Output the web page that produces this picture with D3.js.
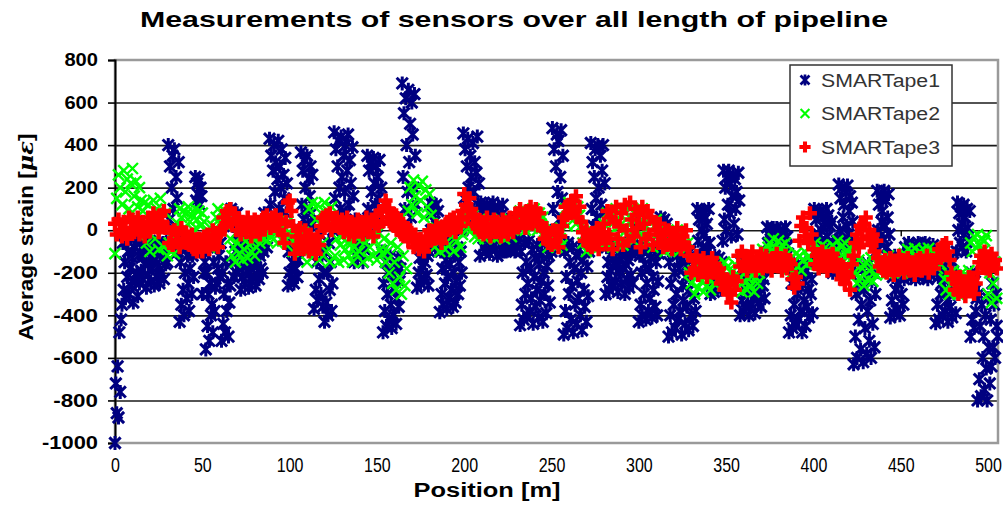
<!DOCTYPE html>
<html><head><meta charset="utf-8">
<script src="https://cdn.jsdelivr.net/npm/d3@7"></script>
<style>body{margin:0;background:#fff}svg{display:block}text{font-family:"Liberation Sans",Arial,sans-serif}</style>
</head><body><svg id="c" width="1003" height="518"></svg>
<script>
const titleText = "Measurements of sensors over all length of pipeline";
const xLabel = "Position [m]";
const seriesNames = ["SMARTape1", "SMARTape2", "SMARTape3"];
const xTicks = [0, 50, 100, 150, 200, 250, 300, 350, 400, 450, 500];
const yTicks = [-1000, -800, -600, -400, -200, 0, 200, 400, 600, 800];
const xMax = 505.7;
// sampling interval along the pipeline (m)
const blueStep = 0.5, greenStep = 1, redStep = 1;

const blueValues = [
-1000,-720,-860,
-640,-880,-480,-760,-420,
-350,-60,-280,-150,-320,-20,-220,-100,-300,-180,-40,-260,-130,-340,-80,-240,-30,-200,-310,-120,
-250,-60,-190,-110,-230,-30,-160,-80,
-270,-90,-210,-150,-50,-240,-120,-180,-70,-260,-140,-100,-220,-60,-170,-250,-90,-200,-130,-60,-230,-110,-160,-80,
-150,400,50,300,-50,200,350,100,380,0,250,150,-100,320,
-430,-150,-350,-80,-280,-400,-200,-50,-320,-120,-250,-380,-180,-100,
-300,-120,-220,-60,
250,140,220,170,240,120,200,160,
-300,-100,-200,-150,
-560,-200,-450,-300,-520,-250,-400,-350,-480,-150,-380,-270,
-250,-80,-180,-120,-220,-60,
-520,-200,-440,-300,-480,-150,-380,-250,-500,-340,
-260,100,-150,20,-220,60,-100,-200,80,-50,-180,0,
-280,-100,-220,-160,-60,-250,-130,-190,-80,-270,-140,-200,-90,-240,-110,-170,-70,-260,-150,-210,-100,-230,-120,-180,-60,-200,
-100,80,-40,20,-80,60,
0,430,120,350,60,280,400,180,320,40,240,420,100,300,200,380,20,260,150,340,80,220,
-260,-100,-200,-60,-230,-150,-80,-250,-120,-180,-70,-220,-140,-90,
0,366,120,280,50,330,200,100,350,20,240,160,300,80,260,30,
-370,-50,-280,-150,-330,-90,-230,-20,-300,-120,-360,-200,
-430,-100,-340,-200,-400,-60,-280,-150,-380,-250,
0,460,150,380,60,300,420,200,100,440,250,30,350,180,400,80,280,450,120,330,220,20,390,160,
-150,50,-80,-20,-130,30,-60,-110,10,-40,-150,40,-90,-10,
0,350,100,280,40,320,180,60,340,220,120,300,20,250,150,330,80,200,
-100,-480,-250,-380,-150,-450,-300,-200,-420,-120,-350,-460,-220,-400,-280,-170,-440,-320,-130,-360,-240,-180,
0,690,250,550,100,620,400,180,660,320,500,60,600,450,200,640,350,120,
-270,-80,-200,-130,-250,-60,-170,-100,-230,-150,-70,-210,-120,-260,
-100,130,0,80,-60,110,40,-80,120,20,90,-40,
-385,-100,-300,-180,-350,-60,-250,-140,-370,-220,-90,-320,-160,-280,-60,-360,-200,-120,-340,-240,-80,-300,-150,-260,-100,-200,
0,455,150,380,60,300,430,200,100,350,250,30,410,180,320,80,270,440,120,220,
-120,130,0,80,-80,110,40,-100,120,-40,60,-110,100,20,-60,130,-20,90,-90,50,-120,110,10,-70,70,-30,120,-100,30,-50,
-100,50,-60,0,-90,30,-40,-80,40,-20,-100,20,-70,-10,-50,50,
-446,-100,-350,-200,-420,-60,-300,-150,-400,-250,-50,-380,-180,-320,-90,-440,-220,-130,-360,-280,-70,-410,-160,-330,-240,-110,-430,-200,-300,-60,-390,-170,-260,-120,-340,-80,
-100,480,100,380,0,300,450,180,420,50,250,470,150,350,
-490,-100,-380,-220,-460,-60,-300,-150,-420,-260,-80,-480,-180,-350,-120,-440,-240,-320,-90,-400,-200,-470,-140,-280,-360,-60,-430,-170,-310,-100,
-50,410,100,320,20,250,380,150,60,400,200,0,350,120,280,400,80,220,
-300,-80,-220,-150,-280,-60,-190,-110,-260,-130,-70,-240,-170,-90,-290,-140,-200,-60,-250,-120,-180,-80,-300,-160,-100,-230,-140,-270,-70,-210,-110,-250,
-100,50,-40,0,-80,30,
-430,-120,-350,-200,-400,-80,-300,-160,-420,-250,-100,-380,-180,-320,-130,-410,-220,-280,-90,-360,-150,-400,-240,-110,
-50,60,0,40,-30,50,10,-40,30,-10,
-500,-150,-400,-250,-480,-100,-350,-200,-460,-300,-120,-420,-180,-380,-140,-490,-260,-330,-110,-440,-220,-360,-160,-470,-280,-100,-400,-200,-450,-320,-130,-380,
-150,100,-50,50,-120,80,0,-80,90,-20,60,-140,30,-100,100,-60,
-300,-140,-250,-180,-290,-120,-220,-160,-270,-200,-130,-240,-280,-150,
-50,280,50,200,0,250,120,280,80,220,-30,160,260,30,240,100,180,-20,270,140,
-400,-150,-330,-220,-380,-180,-280,-360,-160,-300,-400,-200,-250,-350,-170,-320,-240,-390,-190,-270,-150,-340,-210,-300,-360,-160,-260,-230,-320,-180,
-120,14,-60,-20,-100,0,-80,-40,10,-110,-30,-70,10,-90,-50,-10,-120,-20,-60,0,-100,-40,14,-80,-30,-110,
-480,-180,-400,-250,-460,-150,-350,-220,-440,-300,-160,-420,-200,-380,-270,-480,-170,-330,-240,-450,-190,-360,-280,-410,-150,-300,-230,-390,
-150,100,-50,50,-120,80,-20,-90,90,0,-140,60,-60,30,-100,100,-30,70,-130,20,-70,40,
-200,-60,-150,-100,-180,-50,
-100,215,0,150,-50,200,60,120,-80,180,20,210,-20,90,160,-60,130,40,
-630,-200,-500,-300,-600,-150,-420,-250,-560,-350,-180,-620,-280,-460,-220,-580,-380,-160,-520,-330,-600,-240,-440,-200,-550,-300,
-100,185,0,120,-60,160,40,90,-40,185,20,140,-80,60,170,-20,
-410,-150,-330,-220,-390,-120,-280,-180,-370,-250,-140,-400,-200,-300,-160,-350,
-230,-80,-180,-120,-210,-60,-150,-100,-220,-140,-70,-190,-110,-230,-90,-160,-60,-200,-130,-80,-170,-220,-100,-150,-60,-190,-120,-230,-80,-140,-210,-100,-170,-70,-200,-130,
-437,-160,-350,-220,-420,-180,-300,-250,-400,-150,-280,-380,-200,-330,-430,-170,-260,-360,-210,-410,-150,-300,-240,-390,
-100,130,0,80,-60,110,30,-80,120,-20,60,-100,100,10,-50,90,
-500,-200,-420,-280,-460,-240,-380,-320,
-800,-300,-700,-450,-780,-350,-600,-500,-750,-400,-650,-800,-320,-550,-720,-420,
-640,-250,-550,-350,-600,-300,-450,-500
];

const greenValues = [
-110,150,260,200,120,280,180,240,100,220,
290,160,230,110,200,140,90,130,-60,120,
-100,60,140,-40,100,-90,150,20,-80,80,
-120,-60,-100,-40,-110,-70,30,100,60,90,
10,80,110,40,70,0,100,50,90,20,
80,40,-60,0,-80,-20,20,-50,60,100,
30,80,50,90,20,70,-40,-120,-80,-150,
-60,-110,-30,-140,-90,-50,-130,-70,-100,-40,
-120,-80,-30,-60,0,-40,-20,-50,-10,-30,
20,-40,40,-60,0,30,-50,10,-20,40,
-60,-20,-100,-40,0,-80,-30,-90,-10,-70,
-150,100,-80,130,-120,50,120,-140,80,-60,
130,-100,90,-150,110,20,-120,-40,-150,-70,
-30,-140,-90,-60,-120,-50,-150,-80,-110,-40,
-100,-20,-150,-60,0,-130,-80,-30,-120,-50,
-140,-10,-90,-110,-40,-150,-100,-200,-60,-250,
-150,-280,-80,-220,-300,-120,-260,-180,90,200,
120,235,160,80,210,140,230,60,190,110,
170,70,-20,-80,10,-60,-100,30,-40,-90,
0,-70,20,-30,-100,10,-50,30,-80,-20,
40,80,10,60,0,70,-30,30,-40,50,
-10,40,-40,20,50,-20,0,40,-40,30,
-30,50,10,-40,20,-10,40,-30,0,30,
60,20,90,40,100,0,70,30,80,10,
100,50,0,80,30,60,-50,-10,-80,-30,
10,-60,-20,-80,0,-40,-70,40,100,20,
130,60,90,120,30,110,70,20,-60,-20,
-100,-40,-80,0,-60,-90,-30,-70,-10,-50,
30,-60,80,-20,60,-80,40,100,-40,20,
70,-70,90,10,-30,100,50,-50,80,0,
60,-20,100,30,-60,70,-10,40,-80,20,
50,-40,0,-70,-30,-100,-10,-60,-90,-20,
-50,-80,0,-100,-40,-70,-20,-90,-60,-200,
-250,-190,-300,-220,-270,-180,-240,-290,-210,-260,
-230,-280,-190,-250,-200,-160,-230,-180,-260,-150,
-220,-170,-250,-200,-240,-160,-210,-270,-220,-290,
-240,-200,-280,-230,-260,-210,-290,-220,-250,-200,
-130,-90,-150,-100,-80,-60,-100,-40,-80,-110,
-50,-90,-70,-100,-60,-110,-180,-130,-200,-150,
-110,-170,-120,-190,-140,-100,-160,-130,-80,-150,
-100,-60,-130,-90,-160,-70,-120,-80,-140,-100,
-150,-70,-110,-90,-50,-130,-80,-150,-60,-120,
-100,-140,-70,-200,-160,-250,-140,-220,-180,-260,
-150,-230,-190,-130,-240,-170,-210,-160,-200,-130,
-180,-140,-200,-120,-170,-150,-190,-130,-160,-180,
-140,-200,-110,-150,-90,-130,-100,-140,-85,-120,
-150,-100,-130,-90,-140,-110,-85,-150,-120,-100,
-140,-180,-110,-160,-120,-230,-280,-200,-300,-250,
-190,-270,-220,-300,-240,-200,-280,-210,-260,-190,
-60,-100,-30,-80,-20,-70,-40,-100,-50,-25,
-300,-200,-340,-250,-150,-320
];

const redValues = [
30,-20,50,0,-30,40,10,-40,60,-10,
50,-10,30,60,-20,20,40,-30,10,60,
0,30,80,20,60,-10,70,40,90,10,
10,-60,-10,-70,0,-50,-20,-80,10,-40,
-10,-60,-30,-70,-20,-90,-50,-100,-40,-80,
-100,-30,-70,-20,-90,-50,0,-60,-30,-80,
-20,10,60,20,90,40,100,30,80,50,
0,50,-20,40,10,-10,60,20,-30,30,
50,0,40,-20,30,60,20,70,40,10,
60,20,70,30,0,50,-20,-60,40,130,
140,90,20,-110,-30,-70,10,-50,-90,0,
-40,-100,-20,-80,-60,-110,-30,-70,20,60,
10,70,30,80,0,50,20,60,40,10,
50,-10,30,60,-20,40,10,-30,20,50,
0,40,-20,30,60,-10,20,50,-30,30,
70,20,90,40,110,140,60,100,30,80,
20,70,0,40,-20,30,-30,10,-50,0,
-30,-80,-20,-60,-90,-40,-70,-100,-30,-60,
0,-50,-10,-40,20,-30,10,-60,0,-20,
40,0,50,10,60,-10,30,50,20,90,
170,120,60,150,100,30,70,20,50,-10,
40,-20,30,60,0,-30,20,50,-10,40,
10,-30,50,0,30,-20,60,10,-10,40,
80,20,100,40,70,10,90,50,110,30,
70,100,40,80,20,0,-40,10,-60,-20,
-70,0,-50,-10,-80,-30,20,60,110,70,
120,80,140,100,160,60,110,40,-10,-50,
0,-70,-20,-80,-30,-60,10,-90,-40,-10,
30,-60,90,-20,60,-90,40,110,-40,20,
80,-70,120,0,-50,130,50,-30,100,10,
70,-80,110,30,-40,90,-20,60,-70,40,
0,-60,30,-20,-80,-10,-70,0,-50,-90,
-20,-70,10,-50,-90,-30,-60,0,-80,-120,
-200,-140,-180,-120,-210,-150,-190,-130,-170,-220,
-150,-190,-130,-200,-170,-220,-180,-250,-210,-280,
-230,-300,-260,-340,-220,-280,-240,-120,-170,-100,
-160,-120,-190,-130,-170,-100,-150,-190,-130,-160,
-110,-180,-140,-120,-170,-150,-190,-130,-160,-110,
-170,-130,-190,-150,-120,-180,-140,-160,-230,-270,
-220,-250,-50,20,60,-30,10,-60,80,-20,
-90,-160,-120,-180,-140,-100,-170,-130,-190,-120,
-150,-110,-170,-140,-190,-180,-230,-170,-250,-200,
-220,-280,-160,-120,-60,-20,-80,20,-40,30,
60,-30,0,-70,-20,-100,-50,-130,-170,-150,
-190,-140,-200,-160,-130,-180,-210,-150,-170,-120,
-180,-140,-200,-160,-130,-190,-150,-170,-210,-140,
-170,-130,-190,-150,-180,-120,-200,-160,-140,-180,
-150,-120,-90,-130,-70,-110,-60,-100,-140,-200,
-230,-280,-250,-300,-220,-270,-240,-310,-260,-220,
-280,-240,-300,-250,-200,-150,-120,-170,-100,-180,
-130,-190,-110,-160,-140,-180
];

const svg = d3.select("#c");
const margin = {left: 115, right: 998, top: 60, bottom: 443};
const x = d3.scaleLinear().domain([0, xMax]).range([margin.left, margin.right]);
const y = d3.scaleLinear().domain([d3.min(yTicks), d3.max(yTicks)]).range([margin.bottom, margin.top]);
const numFmt = d => String(d);

// plot area
svg.append("rect").attr("x", margin.left).attr("y", margin.top)
  .attr("width", margin.right - margin.left).attr("height", margin.bottom - margin.top)
  .attr("fill", "#fff");

// gridlines
const grid = svg.append("g").attr("transform", `translate(${margin.left},0)`)
  .call(d3.axisLeft(y).tickValues(yTicks.filter(v => v > d3.min(yTicks) && v < d3.max(yTicks)))
    .tickSize(-(margin.right - margin.left)).tickFormat(""));
grid.select(".domain").remove();
grid.selectAll("line").attr("stroke", "#1a1a1a").attr("stroke-width", 1.6);

// plot border
svg.append("rect").attr("x", margin.left).attr("y", margin.top)
  .attr("width", margin.right - margin.left).attr("height", margin.bottom - margin.top)
  .attr("fill", "none").attr("stroke", "#9a9a9a").attr("stroke-width", 2.5);

// y axis
const yAx = svg.append("g").attr("transform", `translate(${margin.left},0)`)
  .call(d3.axisLeft(y).tickValues(yTicks).tickSize(7).tickPadding(10).tickFormat(numFmt));
yAx.select(".domain").attr("stroke", "#000").attr("stroke-width", 2);
yAx.selectAll("line").attr("stroke", "#000").attr("stroke-width", 1.6);
yAx.selectAll("text").attr("font-size", 18).attr("fill", "#000")
  .attr("font-family", "Liberation Sans, Arial, sans-serif").attr("font-weight", "bold")
  .attr("textLength", function() { return this.textContent.length * 11.2; })
  .attr("lengthAdjust", "spacingAndGlyphs");

// x axis (crosses at 0) tick marks
const xAx0 = svg.append("g").attr("transform", `translate(0,${y(0)})`)
  .call(d3.axisBottom(x).tickValues(xTicks).tickSize(6).tickFormat(""));
xAx0.select(".domain").remove();
xAx0.selectAll("line").attr("stroke", "#000").attr("stroke-width", 1.4);

// x tick labels at bottom (condensed digits)
const xAxL = svg.append("g").attr("transform", `translate(0,${margin.bottom})`)
  .call(d3.axisBottom(x).tickValues(xTicks).tickSize(0).tickPadding(15).tickFormat(numFmt));
xAxL.select(".domain").remove();
xAxL.selectAll("text").attr("font-size", 20).attr("fill", "#000")
  .attr("transform", "scale(0.8,1)");

// markers
function markerPath(kind, r) {
  if (kind === "star") {
    const d = r * 0.8;
    return `M0,${-r}L0,${r}M${-d},${-d}L${d},${d}M${-d},${d}L${d},${-d}`;
  }
  if (kind === "x") return `M${-r},${-r}L${r},${r}M${-r},${r}L${r},${-r}`;
  return `M${-r},0L${r},0M0,${-r}L0,${r}`;
}
const series = [
  {name: seriesNames[0], values: blueValues, step: blueStep, color: "#000080", kind: "star", r: 7, w: 3},
  {name: seriesNames[1], values: greenValues, step: greenStep, color: "#00ff00", kind: "x", r: 5.5, w: 2.4},
  {name: seriesNames[2], values: redValues, step: redStep, color: "#ff0000", kind: "plus", r: 7, w: 4.5}
];
series.forEach(s => {
  const p = markerPath(s.kind, s.r);
  svg.append("g").selectAll("path").data(s.values).join("path")
    .attr("transform", (d, i) => `translate(${x(i * s.step)},${y(d)})`)
    .attr("d", p).attr("fill", "none").attr("stroke", s.color).attr("stroke-width", s.w);
});

// title
svg.append("text").attr("x", 514).attr("y", 27).attr("text-anchor", "middle")
  .attr("font-size", 22).attr("font-weight", "bold").attr("fill", "#000")
  .attr("textLength", 748).attr("lengthAdjust", "spacingAndGlyphs").text(titleText);

// x label
svg.append("text").attr("x", 487).attr("y", 497).attr("text-anchor", "middle")
  .attr("font-size", 20).attr("font-weight", "bold").attr("fill", "#000")
  .attr("textLength", 147).attr("lengthAdjust", "spacingAndGlyphs").text(xLabel);

// y label
const yl = svg.append("text").attr("transform", "translate(33,237) rotate(-90)")
  .attr("text-anchor", "middle").attr("font-size", 20).attr("font-weight", "bold").attr("fill", "#000")
  .attr("textLength", 207).attr("lengthAdjust", "spacingAndGlyphs");
yl.append("tspan").text("Average strain [");
yl.append("tspan").attr("font-style", "italic").attr("font-family", "DejaVu Serif, serif").text("με");
yl.append("tspan").text("]");

// legend
const lg = svg.append("g");
lg.append("rect").attr("x", 790).attr("y", 65).attr("width", 162).attr("height", 101)
  .attr("fill", "#fff").attr("stroke", "#333").attr("stroke-width", 1.5);
const rowY = d3.scalePoint().domain(seriesNames).range([80, 147]);
series.forEach(s => {
  lg.append("path").attr("transform", `translate(805,${rowY(s.name)})`)
    .attr("d", markerPath(s.kind, s.r * 0.8)).attr("fill", "none").attr("stroke", s.color).attr("stroke-width", s.w * 0.9);
  lg.append("text").attr("x", 821).attr("y", rowY(s.name) + 6.5).attr("font-size", 18).attr("fill", "#333")
    .attr("textLength", 119).attr("lengthAdjust", "spacingAndGlyphs").text(s.name);
});
</script></body></html>
